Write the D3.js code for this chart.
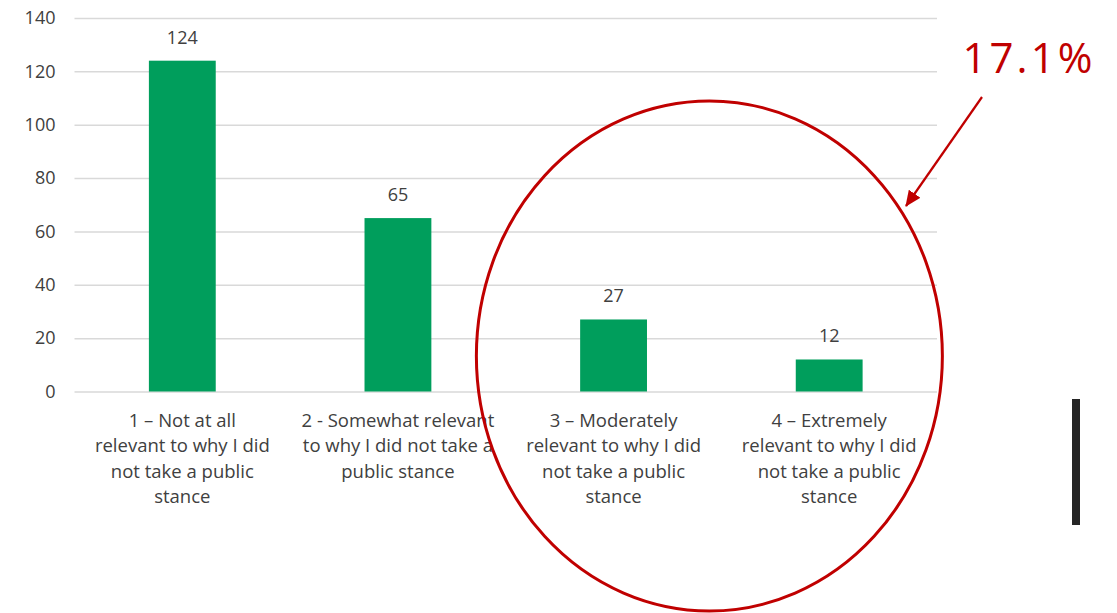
<!DOCTYPE html>
<html>
<head>
<meta charset="utf-8">
<script src="https://cdn.jsdelivr.net/npm/d3@7"></script>
<style>
  html, body { margin: 0; padding: 0; background: #fff; }
  svg { display: block; }
</style>
</head>
<body>
<svg id="chart" width="1117" height="613"></svg>
<script>
// Survey responses: relevance of each reason for not taking a public stance
const categories = [
  ["1 – Not at all", "relevant to why I did", "not take a public", "stance"],
  ["2 - Somewhat relevant", "to why I did not take a", "public stance"],
  ["3 – Moderately", "relevant to why I did", "not take a public", "stance"],
  ["4 – Extremely", "relevant to why I did", "not take a public", "stance"]
];
const counts = [124, 65, 27, 12];
const yTicks = [0, 20, 40, 60, 80, 100, 120, 140];
const calloutText = "17.1%";

const svg = d3.select("#chart");
const font = "'Open Sans', 'Noto Sans', sans-serif";
const textColor = "#404040";
const red = "#c00000";

const margin = { left: 74.5, right: 180, top: 18, bottom: 222 };
const W = 1117, H = 613;

const x = d3.scaleBand()
  .domain(d3.range(categories.length))
  .range([margin.left, W - margin.right])
  .paddingInner(0.69)
  .paddingOuter(0.345);

const y = d3.scaleLinear()
  .domain([0, 140])
  .range([H - margin.bottom + 0.5, margin.top]);

// horizontal gridlines
const yAxis = d3.axisLeft(y)
  .tickValues(yTicks)
  .tickSize(-(W - margin.right - margin.left))
  .tickPadding(19);

const gy = svg.append("g")
  .attr("transform", `translate(${margin.left},0)`)
  .call(yAxis);
gy.select(".domain").remove();
gy.selectAll(".tick line")
  .attr("stroke", "#d9d9d9")
  .attr("stroke-width", 1.5);
gy.selectAll(".tick text")
  .attr("fill", textColor)
  .style("font-family", font)
  .style("font-size", "18px");

// bars
svg.append("g").selectAll("rect")
  .data(counts)
  .join("rect")
  .attr("x", (d, i) => x(i))
  .attr("width", x.bandwidth())
  .attr("y", d => y(d))
  .attr("height", d => y(0) - y(d))
  .attr("fill", "#009e5c");

// value labels
svg.append("g").selectAll("text")
  .data(counts)
  .join("text")
  .attr("x", (d, i) => x(i) + x.bandwidth() / 2)
  .attr("y", d => y(d) - 17)
  .attr("text-anchor", "middle")
  .attr("fill", textColor)
  .style("font-family", font)
  .style("font-size", "18px")
  .text(d => d);

// wrapped category labels
const catG = svg.append("g").selectAll("text")
  .data(categories)
  .join("text")
  .attr("text-anchor", "middle")
  .attr("fill", textColor)
  .style("font-family", font)
  .style("font-size", "18.5px");
catG.each(function (lines, i) {
  const cx = x(i) + x.bandwidth() / 2;
  d3.select(this).selectAll("tspan")
    .data(lines)
    .join("tspan")
    .attr("x", cx)
    .attr("y", (l, k) => y(0) + 35 + k * 25.5)
    .text(l => l);
});

// highlight ellipse around categories 3 and 4
const cx34 = (x(2) + x(3) + x.bandwidth()) / 2 - 12;
svg.append("ellipse")
  .attr("cx", cx34)
  .attr("cy", 356)
  .attr("rx", 233)
  .attr("ry", 255)
  .attr("fill", "none")
  .attr("stroke", red)
  .attr("stroke-width", 3);

// arrow marker
svg.append("defs").append("marker")
  .attr("id", "arrowhead")
  .attr("viewBox", "0 0 16 14")
  .attr("refX", 15)
  .attr("refY", 7)
  .attr("markerWidth", 16)
  .attr("markerHeight", 14)
  .attr("markerUnits", "userSpaceOnUse")
  .attr("orient", "auto")
  .append("path")
  .attr("d", "M0,0 L16,7 L0,14 Z")
  .attr("fill", red);

svg.append("line")
  .attr("x1", 982).attr("y1", 97)
  .attr("x2", 906).attr("y2", 206)
  .attr("stroke", red)
  .attr("stroke-width", 2.2)
  .attr("marker-end", "url(#arrowhead)");

// callout percentage
svg.append("text")
  .attr("x", 1029)
  .attr("y", 73)
  .attr("text-anchor", "middle")
  .attr("fill", red)
  .style("font-family", font)
  .style("font-size", "42px")
  .style("letter-spacing", "3px")
  .text(calloutText);

// dark vertical bar at right edge
svg.append("rect")
  .attr("x", 1072)
  .attr("y", 399)
  .attr("width", 8)
  .attr("height", 126)
  .attr("fill", "#262626");
</script>
</body>
</html>
